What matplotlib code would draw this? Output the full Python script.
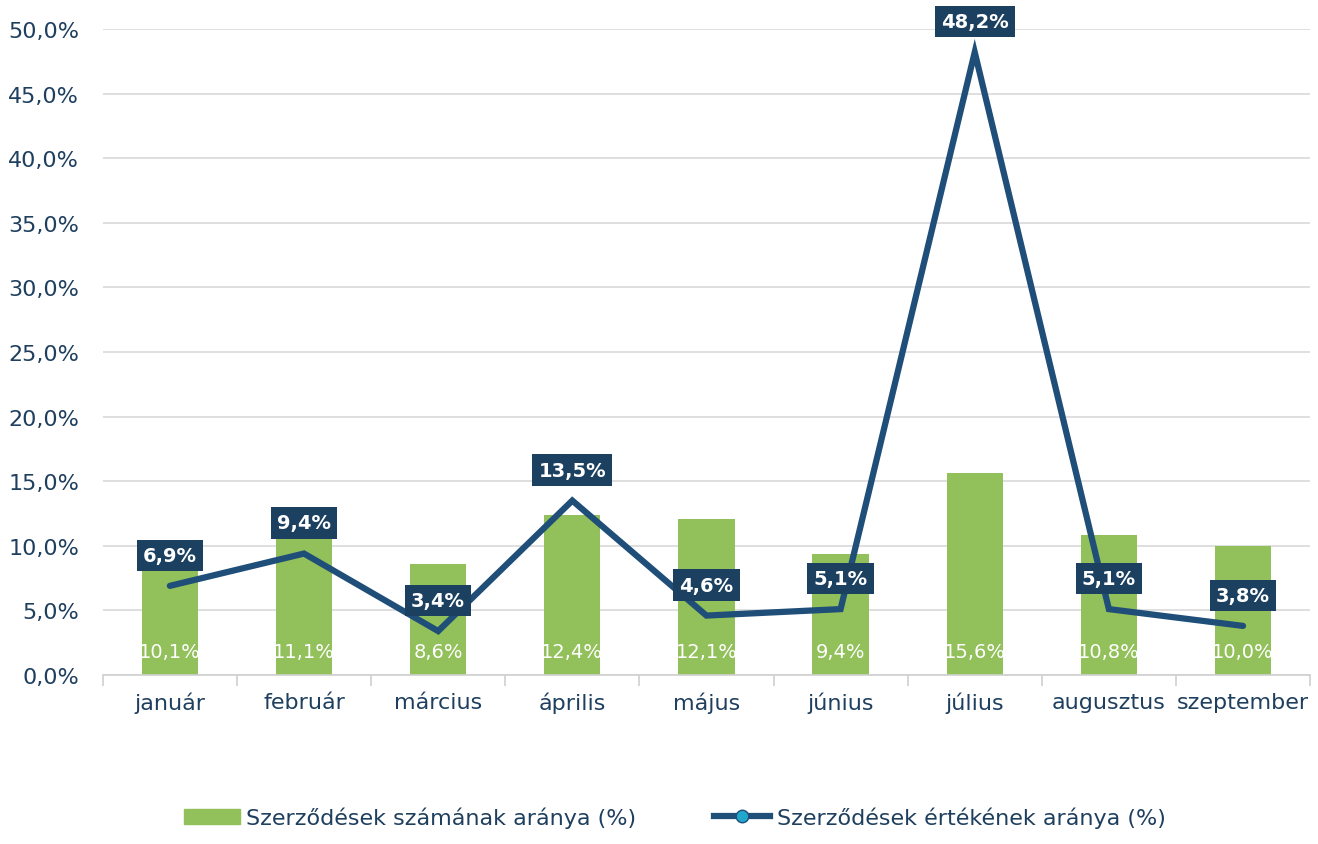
import numpy as np
from matplotlib import pyplot as plt
from matplotlib.lines import Line2D
from matplotlib.patches import Patch

months = ['január', 'február', 'március', 'április', 'május', 'június',
          'július', 'augusztus', 'szeptember']
count_share = [10.1, 11.1, 8.6, 12.4, 12.1, 9.4, 15.6, 10.8, 10.0]
value_share = [6.9, 9.4, 3.4, 13.5, 4.6, 5.1, 48.2, 5.1, 3.8]

green = '#92c05a'
navy = '#1f4e79'
box = '#1b4060'
text_col = '#1f3f5f'

plt.rcParams['font.family'] = ['DejaVu Sans']

fig = plt.figure(figsize=(13.18, 8.45), dpi=100)
ax = fig.add_axes([0.078, 0.2, 0.916, 0.7645])

x = np.arange(len(months))
ax.bar(x, count_share, width=0.42, color=green, zorder=2)
ax.plot(x, value_share, color=navy, lw=4.5, solid_capstyle='round',
        solid_joinstyle='miter', zorder=3)

def fmt(v):
    return f'{v:.1f}%'.replace('.', ',')

# bar labels near the bottom
for xi, v in zip(x, count_share):
    ax.text(xi, 1.85, fmt(v), ha='center', va='center', color='white',
            fontsize=14, zorder=4)

# line labels in dark boxes above the points
for xi, v in zip(x, value_share):
    ax.annotate(fmt(v), (xi, v), xytext=(0, 22), textcoords='offset points',
                ha='center', va='center', color='white', fontsize=14,
                fontweight='bold', zorder=5,
                bbox=dict(boxstyle='square,pad=0.32', fc=box, ec='none'))

ax.set_xlim(-0.5, len(months) - 0.5)
ax.set_ylim(0, 50)
ax.set_yticks(np.arange(0, 51, 5))
ax.set_yticklabels([fmt(t) for t in np.arange(0, 51, 5)])
ax.yaxis.grid(True, color='#d9d9d9', lw=1.2, zorder=0)
ax.set_axisbelow(True)

ax.set_xticks(x)
ax.set_xticklabels(months)
ax.set_xticks(np.arange(-0.5, len(months)), minor=True)
ax.tick_params(axis='x', which='major', length=0, pad=12, labelsize=16,
               labelcolor=text_col)
ax.tick_params(axis='x', which='minor', length=8, color='#d0d0d0', width=1.2)
ax.tick_params(axis='y', length=0, labelsize=16, labelcolor=text_col, pad=17)

for s in ['top', 'right', 'left']:
    ax.spines[s].set_visible(False)
ax.spines['bottom'].set_color('#d0d0d0')
ax.spines['bottom'].set_linewidth(1.2)

handles = [Patch(color=green),
           Line2D([0], [0], color=navy, lw=4.5, marker='o', markersize=9,
                  markerfacecolor='#20a8cc', markeredgecolor=navy)]
labels = ['Szerződések számának aránya (%)', 'Szerződések értékének aránya (%)']
fig.legend(handles, labels, loc='lower center', bbox_to_anchor=(0.512, -0.005),
           ncol=2, frameon=False, fontsize=16, labelcolor=text_col,
           handlelength=2.5, handletextpad=0.3, columnspacing=3.5)

fig.savefig('out.png', dpi=100)
